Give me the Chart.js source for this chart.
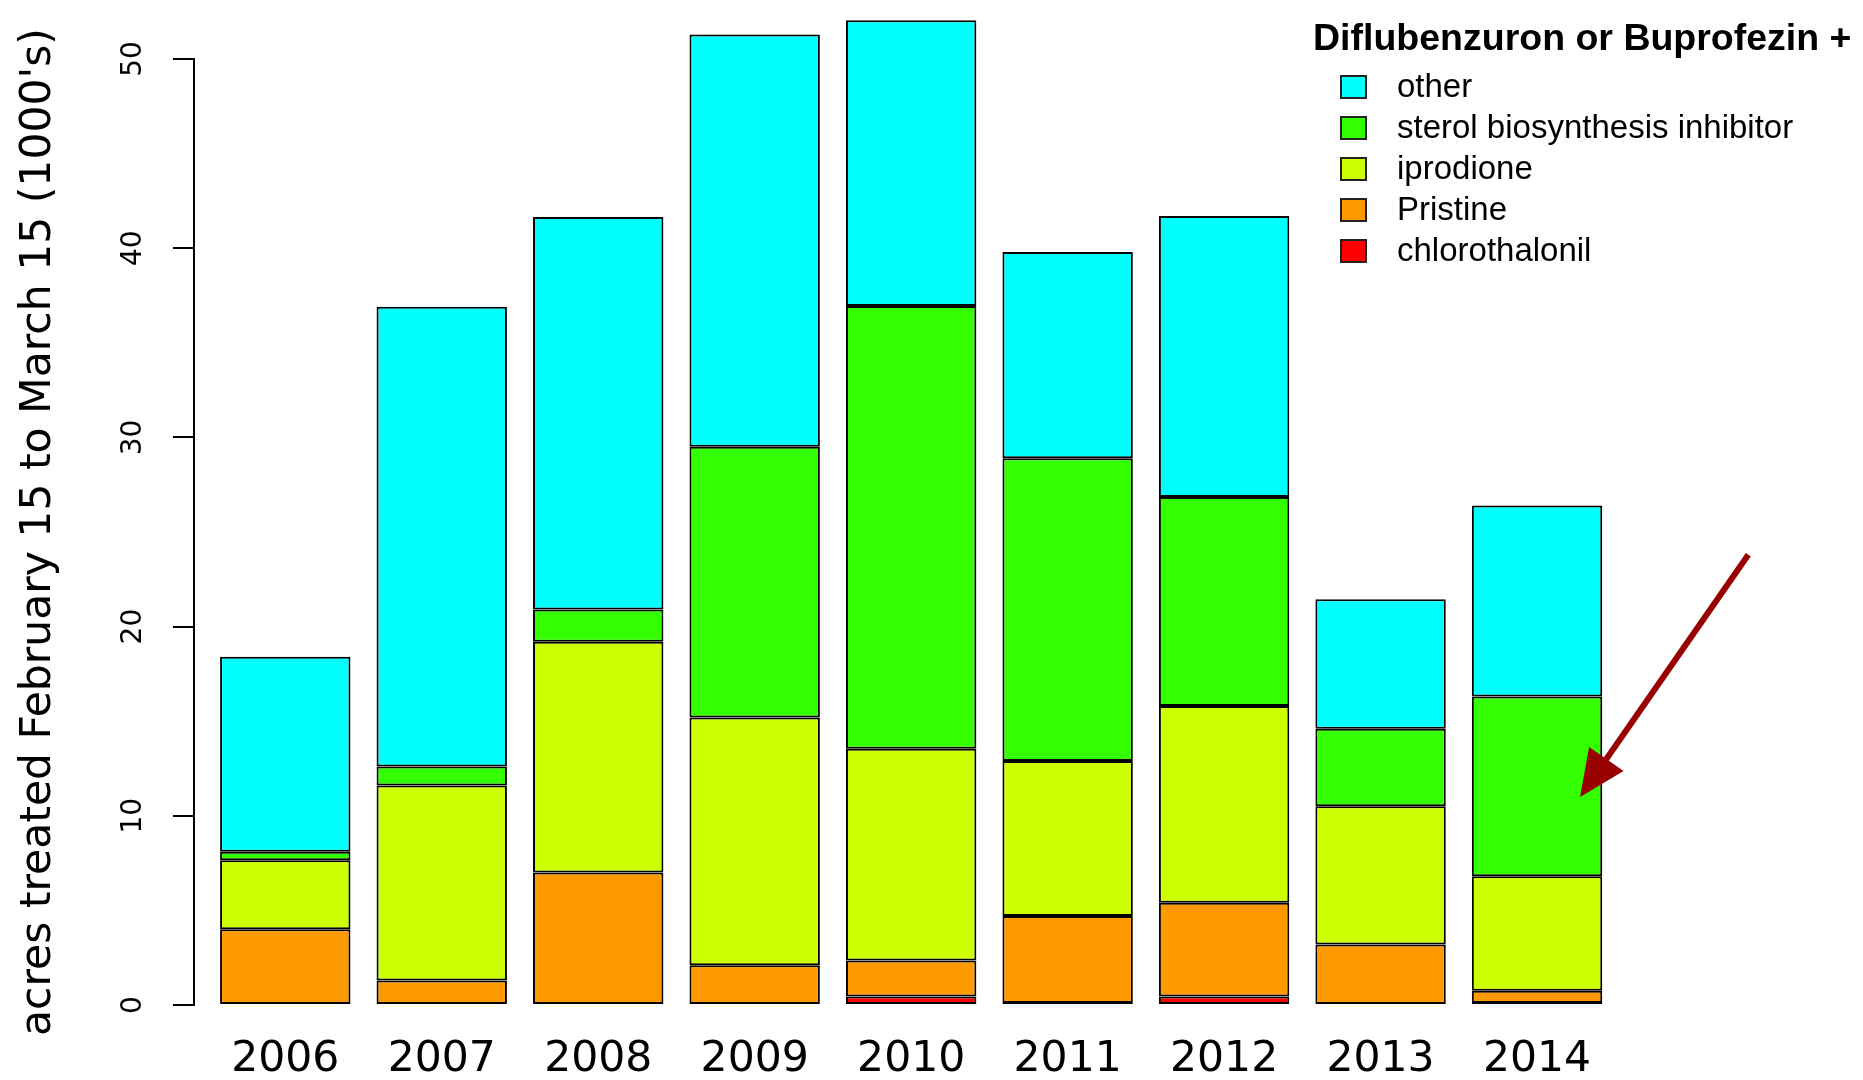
<!DOCTYPE html>
<html>
<head>
<meta charset="utf-8">
<title>acres treated February 15 to March 15</title>
<script src="https://cdn.jsdelivr.net/npm/chart.js@4/dist/chart.umd.min.js"></script>
<style>
  html, body { margin: 0; padding: 0; background: #fff; }
  #wrap { width: 1863px; height: 1080px; position: relative; }
</style>
</head>
<body>
<div id="wrap"><canvas id="acresChart"></canvas></div>
<script>
// Stacked bars, acres treated (1000's) per year, bottom segment first.

const YEARS = ['2006', '2007', '2008', '2009', '2010', '2011', '2012', '2013', '2014'];

const CHLOROTHALONIL = [0, 0, 0, 0, 0.45, 0.1, 0.45, 0, 0.1];
const PRISTINE       = [4.0, 1.3, 7.0, 2.1, 1.9, 4.6, 4.95, 3.2, 0.65];
const IPRODIONE      = [3.65, 10.3, 12.2, 13.1, 11.2, 8.2, 10.4, 7.3, 6.05];
const STEROL         = [0.45, 1.0, 1.7, 14.3, 23.4, 16.0, 11.05, 4.1, 9.5];
const OTHER          = [10.3, 24.3, 20.75, 21.8, 15.1, 10.9, 14.85, 6.85, 10.1];

const Y_TICKS = [0, 10, 20, 30, 40, 50];
const LEGEND_TITLE = 'Diflubenzuron or Buprofezin +';

// arrow annotation, in data units (from -> tip)
const ARROW_FROM = [11.92, 23.8];
const ARROW_TO   = [10.63, 11.0];

// barplot-style positions: width 1, space 0.2
const BAR_POS = YEARS.map((_, i) => 0.7 + 1.2 * i);

const series = [
    { label: 'chlorothalonil', data: CHLOROTHALONIL, color: '#FF0000' },
    { label: 'Pristine', data: PRISTINE, color: '#FF9900' },
    { label: 'iprodione', data: IPRODIONE, color: '#CCFF00' },
    { label: 'sterol biosynthesis inhibitor', data: STEROL, color: '#33FF00' },
    { label: 'other', data: OTHER, color: '#00FFFF' }
];

const legendAndArrow = {
    id: 'legendAndArrow',
    afterDraw(chart) {
        const ctx = chart.ctx;
        const xs = chart.scales.x, ys = chart.scales.y;
        ctx.save();

        // arrow
        const x1 = xs.getPixelForValue(ARROW_FROM[0]), y1 = ys.getPixelForValue(ARROW_FROM[1]);
        const x2 = xs.getPixelForValue(ARROW_TO[0]),   y2 = ys.getPixelForValue(ARROW_TO[1]);
        const ang = Math.atan2(y2 - y1, x2 - x1);
        const headLen = 46, headW = 21;
        const bx = x2 - headLen * Math.cos(ang), by = y2 - headLen * Math.sin(ang);
        ctx.strokeStyle = '#990000';
        ctx.fillStyle = '#990000';
        ctx.lineWidth = 6;
        ctx.beginPath();
        ctx.moveTo(x1, y1);
        ctx.lineTo(bx + 10 * Math.cos(ang), by + 10 * Math.sin(ang));
        ctx.stroke();
        ctx.beginPath();
        ctx.moveTo(x2, y2);
        ctx.lineTo(bx + headW * Math.sin(ang), by - headW * Math.cos(ang));
        ctx.lineTo(bx - headW * Math.sin(ang), by + headW * Math.cos(ang));
        ctx.closePath();
        ctx.fill();

        // legend, top entry = top of stack
        ctx.textBaseline = 'middle';
        ctx.textAlign = 'left';
        ctx.fillStyle = '#000';
        ctx.font = 'bold 37.5px "Liberation Sans", Arial, sans-serif';
        ctx.fillText(LEGEND_TITLE, 1313, 40);
        ctx.font = '33px "Liberation Sans", Arial, sans-serif';
        const ds = chart.data.datasets.slice().reverse();
        ds.forEach((d, i) => {
            const cy = 87 + 41 * i;
            ctx.fillStyle = d.backgroundColor;
            ctx.fillRect(1341, cy - 11, 25, 22);
            ctx.lineWidth = 2;
            ctx.strokeStyle = '#222';
            ctx.strokeRect(1341, cy - 11, 25, 22);
            ctx.fillStyle = '#000';
            ctx.fillText(d.label, 1397, cy + 1);
        });
        ctx.restore();
    }
};

new Chart(document.getElementById('acresChart').getContext('2d'), {
    type: 'bar',
    data: {
        datasets: series.map(s => ({
            label: s.label,
            data: s.data.map((v, i) => ({ x: BAR_POS[i], y: v })),
            backgroundColor: s.color,
            borderColor: '#000',
            borderWidth: 2,
            borderSkipped: false,
            categoryPercentage: 1,
            barPercentage: 1 / 1.2,
            clip: false
        }))
    },
    options: {
        responsive: true, maintainAspectRatio: false, animation: false,
        layout: { padding: { top: 59, right: 13, left: 0, bottom: 0 } },
        plugins: { legend: { display: false }, tooltip: { enabled: false } },
        scales: {
            x: {
                type: 'linear', stacked: true, min: 0, max: 12.7, offset: false,
                grid: { display: false, drawTicks: false, offset: false },
                border: { display: false },
                afterBuildTicks: s => { s.ticks = BAR_POS.map(v => ({ value: v })); },
                afterFit: s => { s.height = 75; },
                ticks: {
                    autoSkip: false, maxRotation: 0, padding: 29, color: '#000',
                    font: { family: '"DejaVu Sans", sans-serif', size: 42.5 },
                    callback: (v, i) => YEARS[i]
                }
            },
            y: {
                stacked: true, min: 0, max: 50,
                afterBuildTicks: s => { s.ticks = Y_TICKS.map(v => ({ value: v })); },
                afterFit: s => { s.width = 194; },
                grid: { drawOnChartArea: false, tickLength: 21, color: '#000', lineWidth: 2 },
                border: { color: '#000', width: 2 },
                ticks: {
                    color: '#000', minRotation: 90, maxRotation: 90, crossAlign: 'center', padding: 21,
                    font: { family: '"DejaVu Sans", sans-serif', size: 28 }
                },
                title: {
                    display: true, text: "acres treated February 15 to March 15 (1000's)",
                    color: '#000', padding: { top: 13, bottom: 0 },
                    font: { family: '"DejaVu Sans", sans-serif', size: 42.5 }
                }
            }
        }
    },
    plugins: [legendAndArrow]
});
</script>
</body>
</html>
